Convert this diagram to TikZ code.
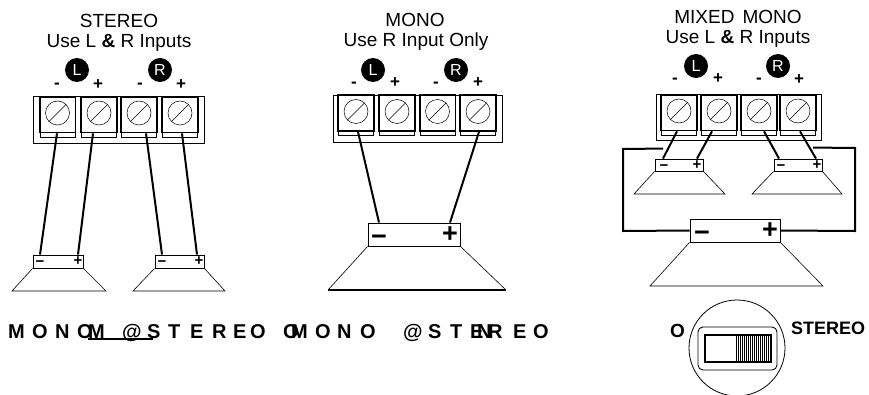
\documentclass[tikz,border=0pt]{standalone}
\usepackage{fontspec}
\setmainfont{Liberation Sans}
\usepackage{tikz}
\usetikzlibrary{arrows.meta, positioning, calc}
\tikzset{
  head/.style={inner sep=0pt, font=\fontsize{19}{21}\selectfont},
  chan/.style={circle, fill=black, text=white, minimum size=24pt, inner sep=0pt, font=\fontsize{16}{16}\selectfont},
  pole/.style={inner sep=0pt, font=\bfseries\fontsize{17}{17}\selectfont},
  block/.style={draw, line width=0.7pt, inner sep=0pt},
  termbox/.style={draw, line width=0.7pt, inner sep=0pt, minimum width=35pt, minimum height=40pt},
  screw/.style={draw, circle, line width=0.5pt, minimum size=24pt, inner sep=0pt},
  wire/.style={line width=2pt},
  spkbox/.style={draw, line width=0.9pt, inner sep=0pt, fill=white},
  spkcone/.style={line width=0.6pt},
  smallsign/.style={inner sep=0pt, font=\bfseries\fontsize{15}{15}\selectfont},
  bigsign/.style={inner sep=0pt, font=\bfseries\fontsize{27}{27}\selectfont},
  word/.style={inner sep=0pt, anchor=base west, font=\bfseries\fontsize{20}{20}\selectfont}
}
\begin{document}
\begin{tikzpicture}[x=1pt, y=-1pt]
  \useasboundingbox (0,0) rectangle (869,395);

  % Headings
  \node[head] (stereotitle) at (119,21) {STEREO};
  \node[head] (stereouse) at (119,43) {Use L {\bfseries\&} R Inputs};
  \node[head] (monotitle) at (415,20) {MONO};
  \node[head] (monouse) at (416,42) {Use R Input Only};
  \node[head] (mixedtitle) at (738,17) {MIXED\hspace{8pt}MONO};
  \node[head] (mixeduse) at (738,39) {Use L {\bfseries\&} R Inputs};

  % Channel marks and poles
  \foreach \n/\t/\x/\y in {la/L/77/70, ra/R/160/70, lb/L/373/70, rb/R/456/70, lc/L/696/66, rc/R/778/66}
    \node[chan] (\n) at (\x,\y) {\t};
  \foreach \n/\t/\x/\y in {a1/-/57/86, a2/+/98/85, a3/-/140/86, a4/+/181/85,
                           b1/-/354/85, b2/+/395/83, b3/-/436/85, b4/+/478/83,
                           c1/-/675/81, c2/+/718/79, c3/-/759/81, c4/+/799/80}
    \node[pole] (pole\n) at (\x,\y) {\t};

  % Terminal strips
  \node[block, minimum width=170.5pt, minimum height=47pt] (stripa) at (118.75,119.5) {};
  \node[block, minimum width=169pt, minimum height=47pt] (stripb) at (417.5,118.5) {};
  \node[block, minimum width=165pt, minimum height=46pt] (stripc) at (738.5,117) {};
  \foreach \n/\x/\y in {a1/57.5/117, a2/99/117, a3/139/117, a4/180/117,
                        b1/356/115.5, b2/397/115.5, b3/437.5/115.5, b4/478/115.5,
                        c1/679/115, c2/719/115, c3/759/115, c4/798/115} {
    \node[termbox] (term\n) at (\x,\y) {};
    \draw[line width=1.5pt] (term\n.north west) rectangle ([yshift=5pt]term\n.south east);
    \node[screw] (screw\n) at (\x,\y-4) {};
    \draw[line width=0.5pt] (screw\n.225) -- (screw\n.45);
  }

  % Wires
  \foreach \t/\s/\a/\b in {a1/spka/-0.5/-18, a2/spka/-6/20, a3/spkb/7/-17.5, a4/spkb/2/17.5,
                           b1/spkc/2/-35, b4/spkc/1/36,
                           c1/spkd/-2/-16, c2/spkd/-7/18, c3/spke/5/-19, c4/spke/2/18}
    \coordinate (end\t) at ([xshift=\a pt, yshift=4pt]term\t.south);
  % Speakers
  \node[spkbox, minimum width=50pt, minimum height=13pt] (spka) at (58,261.5) {};
  \node[spkbox, minimum width=49pt, minimum height=13pt] (spkb) at (179.5,261.5) {};
  \node[spkbox, minimum width=92pt, minimum height=23pt] (spkc) at (414,234.5) {};
  \node[spkbox, minimum width=48pt, minimum height=12pt] (spkd) at (679,165) {};
  \node[spkbox, minimum width=48pt, minimum height=12pt] (spke) at (798,165) {};
  \node[spkbox, minimum width=90pt, minimum height=23pt] (spkf) at (735,230.5) {};
  \foreach \n/\l/\r/\y in {spka/12/106/291, spkb/133/225/291, spkd/634/725/194, spke/752/842/194, spkf/650/823/286}
    \draw[spkcone] (\n.south west) -- (\l,\y) -- (\r,\y) -- (\n.south east);
  \draw[spkcone] (spkc.south west) -- (328,290);
  \draw[spkcone] (spkc.south east) -- (506,290);
  \draw[line width=1.5pt] (328,290) -- (506,290);

  % Signs on the speakers
  \foreach \n/\s/\x/\y in {a/−/40/264, b/+/78/261, c/−/162/264, d/+/199/261,
                           e/−/664/168, f/+/697/165, g/−/781/168, h/+/817/165}
    \node[smallsign] (sign\n) at (\x,\y) {\s};
  \foreach \n/\s/\x/\y in {i/−/379/240, j/+/450/235, k/−/702/236, l/+/770/231}
    \node[bigsign] (sign\n) at (\x,\y) {\s};

  \foreach \t/\s/\b in {a1/spka/-18, a2/spka/20, a3/spkb/-17.5, a4/spkb/17.5,
                        b1/spkc/-35, b4/spkc/36,
                        c1/spkd/-16, c2/spkd/18, c3/spke/-19, c4/spke/18}
    \draw[wire] (end\t) -- ([xshift=\b pt]\s.north);

  % Outer loop of the mixed hookup
  \coordinate (loopa) at ([xshift=-16pt, yshift=10pt]spkd.north);
  \coordinate (loopb) at ([xshift=15pt, yshift=11pt]spke.north);
  \draw[wire] (loopa) -- (623,149) -- (623,231) -- (spkf.west);
  \draw[wire] (loopb) -- (855,148) -- (855,231) -- (spkf.east);

  % Row of spaced letters
  \foreach \c/\x in {M/8, O/32, N/55, O/77, M/88, @/122, S/147, T/168, E/190, R/212, E/233, O/250,
                     O/283, M/291, O/315, N/337, O/360, @/403, S/428, T/450, E/470, N/477, R/488, E/513, O/533}
    \node[word] (letter\x) at (\x,338) {\c};
  \draw[line width=1.5pt] (88,339) -- (153,339);

  % Switch
  \node[draw, circle, line width=0.8pt, minimum size=96pt, inner sep=0pt] (dial) at (737,348) {};
  \node[draw, rounded corners=5pt, line width=0.9pt, minimum width=79pt, minimum height=43pt, inner sep=0pt] (slot) at (737.5,348.5) {};
  \node[draw, line width=1.2pt, minimum width=66pt, minimum height=27pt, inner sep=0pt] (slider) at (738,348.5) {};
  \foreach \x in {736,738,...,770}
    \draw[line width=1pt] (\x,335) -- (\x,362);
  \node[word, font=\bfseries\fontsize{19}{19}\selectfont] (offlabel) at (670,337) {O};
  \node[word, font=\bfseries\fontsize{18}{18}\selectfont] (stereolabel) at (791,334) {STEREO};
\end{tikzpicture}
\end{document}
